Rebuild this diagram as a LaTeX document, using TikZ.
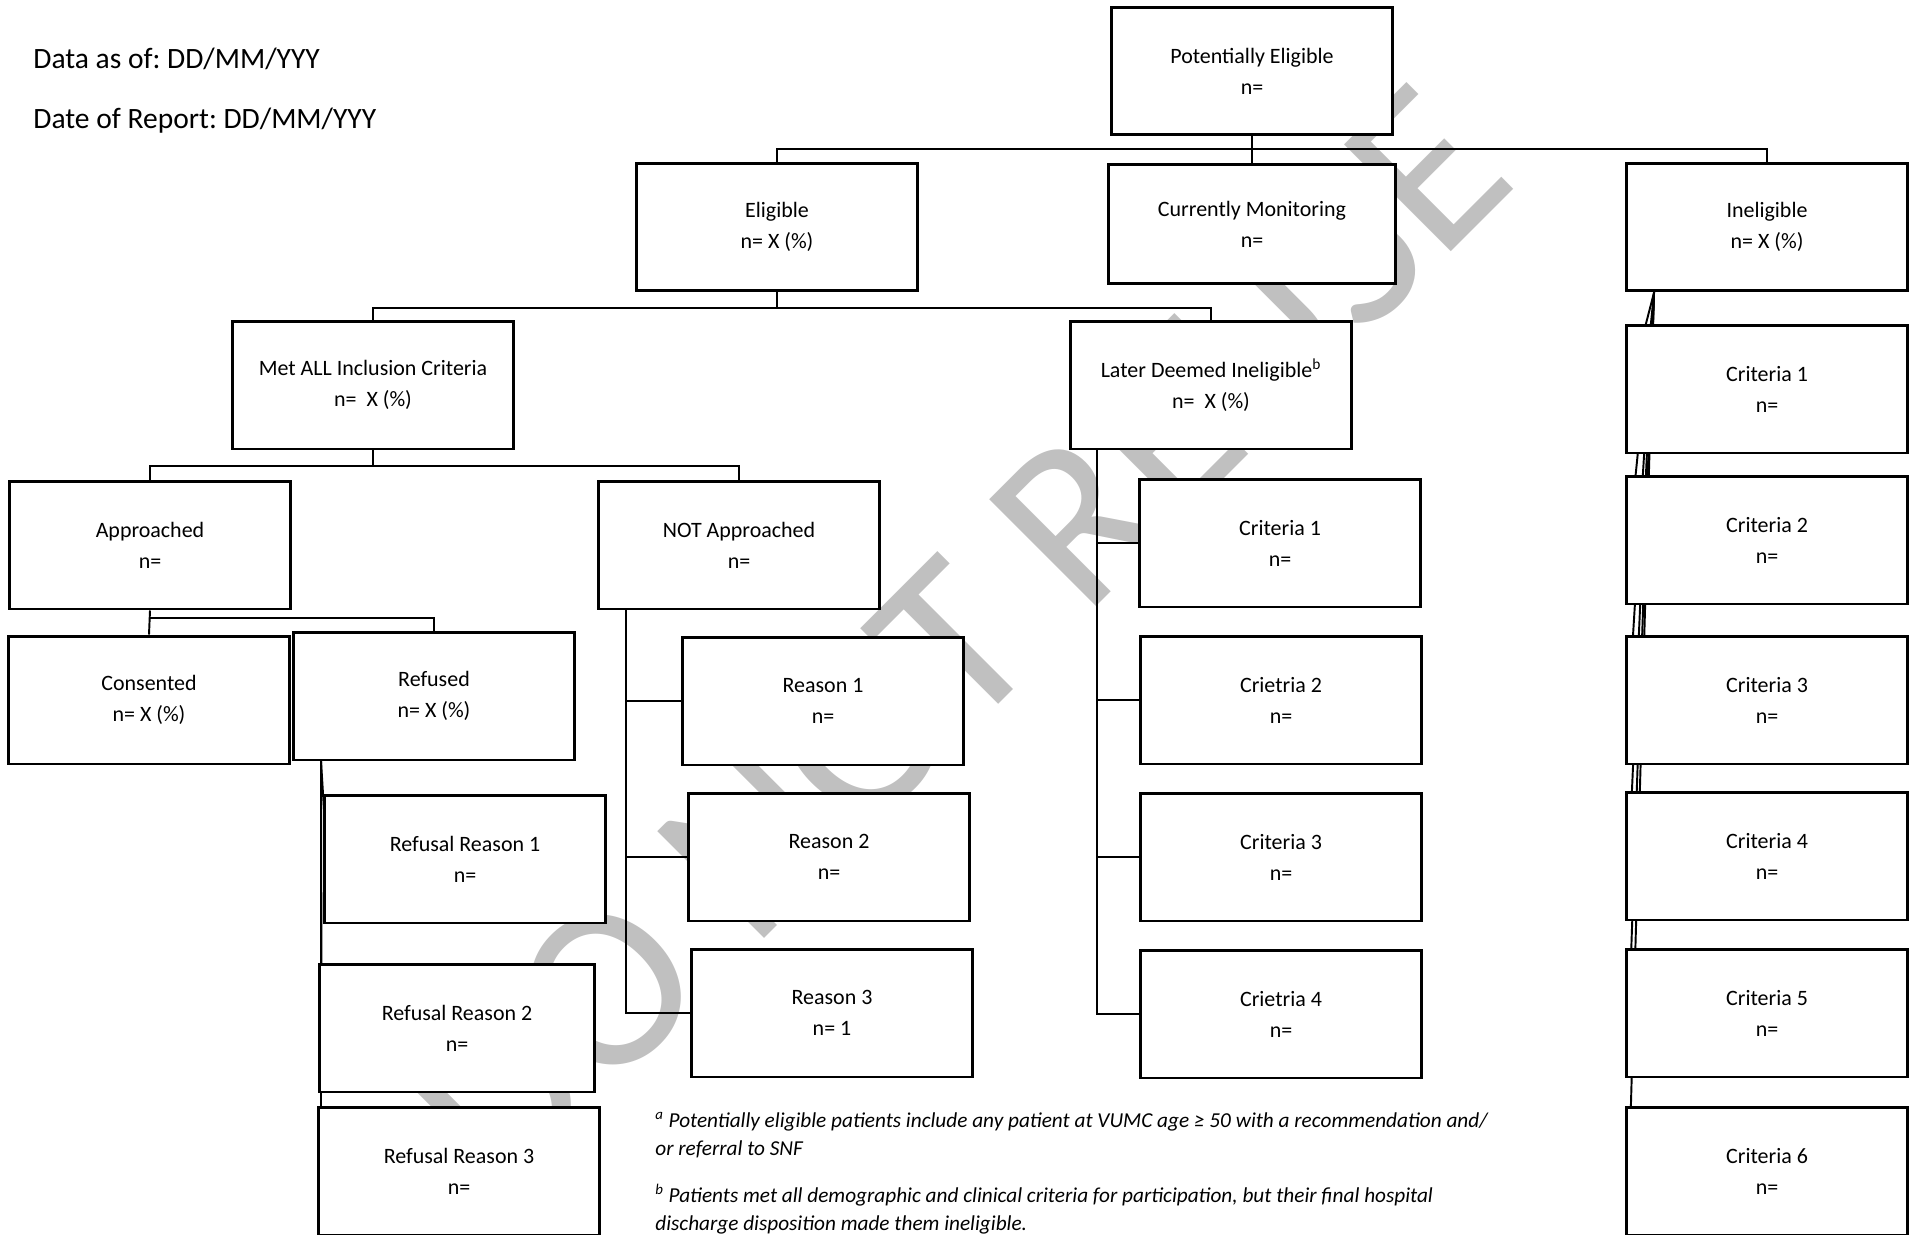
\documentclass[tikz,border=0pt]{standalone}
\usepackage{fontspec}
\setmainfont{Carlito}
\usepackage{tikz}
\usetikzlibrary{calc,backgrounds,positioning}
\definecolor{wmgray}{RGB}{192,192,192}
\frenchspacing
\tikzset{
	box/.style={draw=black, line width=1.7pt, fill=white, align=center,
		minimum width=5.62cm, minimum height=2.56cm, inner sep=0pt,
		font=\fontsize{12.5}{17.6}\selectfont},
	conn/.style={line width=1.1pt},
	header/.style={anchor=base west, inner sep=0pt, font=\fontsize{16.8}{20}\selectfont},
	foot/.style={anchor=west, inner sep=0pt, align=left, font=\fontsize{12.1}{16}\selectfont\itshape},
	wmark/.style={inner sep=0pt, text=wmgray, font=\fontsize{134}{134}\selectfont}
}
\begin{document}
\begin{tikzpicture}[x=0.02cm, y=-0.02cm]
	\useasboundingbox (0,0) rectangle (1910,1234);
	\clip (0,0) rectangle (1910,1234);
	
	%%%%%%%%%% header %%%%%%%%%%%%%%
	\node[header] (asof) at (33,68) {Data as of: DD/MM/YYY};
	\node[header] (report) at (33,128) {Date of Report: DD/MM/YYY};
	
	%%%%%%%%%% top levels %%%%%%%%%%%
	\node[box] (pe) at (1252,71) {Potentially Eligible\\n=};
	\node[box] (elig) at (777,227) {Eligible\\n= X (\%)};
	\node[box, minimum width=5.74cm, minimum height=2.4cm] (cm) at (1252,224) {Currently Monitoring\\n=};
	\node[box] (inel) at (1767,227) {Ineligible\\n= X (\%)};
	\node[box] (metall) at (373,385) {Met ALL Inclusion Criteria\\n=~ X (\%)};
	\node[box] (later) at (1211,385) {Later Deemed Ineligible\textsuperscript{b}\\n=~ X (\%)};
	\node[box] (appr) at (150,545) {Approached\\n=};
	\node[box] (notappr) at (739,545) {NOT Approached\\n=};
	\node[box] (cons) at (149,700) {Consented\\n= X (\%)};
	\node[box] (refused) at (434,696) {Refused\\n= X (\%)};
	
	%%%%%%%%%% refusals %%%%%%%%%%%%%
	\node[box] (rr1) at (465,859) {Refusal Reason 1\\n=};
	\node[box, minimum width=5.52cm] (rr2) at (457,1028) {Refusal Reason 2\\n=};
	\node[box] (rr3) at (459,1171) {Refusal Reason 3\\n=};
	
	%%%%%%%%%% not approached %%%%%%%
	\node[box] (rea1) at (823,701) {Reason 1\\n=};
	\node[box] (rea2) at (829,857) {Reason 2\\n=};
	\node[box] (rea3) at (832,1013) {Reason 3\\n= 1};
	
	%%%%%%%%%% later deemed %%%%%%%%%
	\node[box] (lc1) at (1280,543) {Criteria 1\\n=};
	\node[box] (lc2) at (1281,700) {Crietria 2\\n=};
	\node[box] (lc3) at (1281,857) {Criteria 3\\n=};
	\node[box] (lc4) at (1281,1014) {Crietria 4\\n=};
	
	%%%%%%%%%% ineligible %%%%%%%%%%%
	\node[box] (ic1) at (1767,389) {Criteria 1\\n=};
	\node[box] (ic2) at (1767,540) {Criteria 2\\n=};
	\node[box] (ic3) at (1767,700) {Criteria 3\\n=};
	\node[box] (ic4) at (1767,856) {Criteria 4\\n=};
	\node[box] (ic5) at (1767,1013) {Criteria 5\\n=};
	\node[box] (ic6) at (1767,1171) {Criteria 6\\n=};
	
	%%%%%%%%%% footnotes %%%%%%%%%%%%
	\node[foot] (nota) at (655,1135) {\textsuperscript{a} Potentially eligible patients include any patient at VUMC age ≥ 50 with a recommendation and/\\or referral to SNF};
	\node[foot] (notb) at (655,1209) {\textsuperscript{b} Patients met all demographic and clinical criteria for participation, but their final hospital\\discharge disposition made them ineligible.};
	
	%%%%%%%%%% buses %%%%%%%%%%%%%%%%
	\coordinate (busA) at (1252,149);
	\coordinate (busB) at (777,308);
	\coordinate (busC) at (373,466);
	\coordinate (busD) at (150,618);
	
	\begin{scope}[on background layer]
		%%%%%%%%%% watermark %%%%%%%%%%
		\node[wmark, rotate=45] (wm) at (958,638) {DO NOT REUSE};
		
		%%%%%%%%%% connectors %%%%%%%%%
		\draw[conn] (pe.south) -- (cm.north);
		\draw[conn] (elig.north) |- (busA) -| (inel.north);
		\draw[conn] (elig.south) -- (busB);
		\draw[conn] (metall.north) |- (busB) -| (later.north);
		\draw[conn] (metall.south) -- (busC);
		\draw[conn] (appr.north) |- (busC) -| (notappr.north);
		\draw[conn] (appr.south) -- (cons.north);
		\draw[conn] (busD) -| (refused.north);
		\foreach \r in {rr1,rr2,rr3}
			\draw[conn] ($(refused.south west)+(29,0)$) -- ($(\r.west)+(4,0)$);
		\foreach \r in {rea1,rea2,rea3}
			\draw[conn] ($(notappr.south west)+(29,0)$) |- (\r.west);
		\foreach \c in {lc1,lc2,lc3,lc4}
			\draw[conn] ($(later.south west)+(28,0)$) |- (\c.west);
		\foreach \c in {ic1,ic2,ic3,ic4,ic5,ic6}
			\draw[conn] ($(inel.south west)+(29,0)$) -- ($(\c.west)+(4,0)$);
	\end{scope}
\end{tikzpicture}
\end{document}
